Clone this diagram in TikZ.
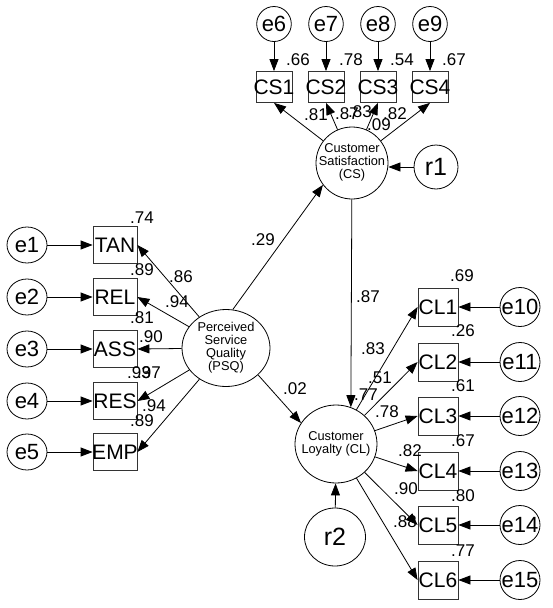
\documentclass[tikz,border=0pt]{standalone}
\usepackage{fontspec}
\setmainfont{Liberation Sans}
\usetikzlibrary{arrows.meta,shapes.geometric}
\newcommand{\boxtxt}[1]{\makebox[0pt]{#1}}
\newcommand{\latlines}[1]{\makebox[0pt]{\begin{tabular}{@{}c@{}}#1\end{tabular}}}

\begin{document}
\begin{tikzpicture}[x=1pt, y=-1pt, line width=0.8pt,
    obs/.style={rectangle, draw=black!80, inner sep=0pt, font=\fontsize{21}{21}\selectfont},
    csbox/.style={obs, minimum width=36pt, minimum height=31pt},
    lbox/.style={obs, minimum width=44pt, minimum height=37pt},
    rbox/.style={obs, minimum width=40pt, minimum height=38pt},
    err/.style={ellipse, draw, inner sep=0pt, font=\fontsize{22}{22}\selectfont},
    errtop/.style={err, minimum width=34pt, minimum height=35pt},
    errleft/.style={err, minimum width=40pt, minimum height=36pt},
    errright/.style={err, minimum width=40pt, minimum height=39pt},
    res/.style={err, font=\fontsize{25}{25}\selectfont},
    lat/.style={ellipse, draw, inner sep=0pt, font=\fontsize{12.8}{11.6}\selectfont},
    coef/.style={inner sep=0pt, font=\fontsize{17}{17}\selectfont},
    arr/.style={-{Triangle[length=12pt,width=9pt]}}
]
    \useasboundingbox (0,0) rectangle (552,608);
    \node[errtop] (e6) at (274,24) {e6};
    \node[errtop] (e7) at (326,24) {e7};
    \node[errtop] (e8) at (378,24) {e8};
    \node[errtop] (e9) at (430,24) {e9};
    \node[csbox] (cs1) at (274,87) {\boxtxt{CS1}};
    \node[csbox] (cs2) at (326,87) {\boxtxt{CS2}};
    \node[csbox] (cs3) at (378,87) {\boxtxt{CS3}};
    \node[csbox] (cs4) at (430,87) {\boxtxt{CS4}};
    \node[lat, minimum width=72pt, minimum height=72pt] (cs) at (352,163) {\raisebox{-5pt}{\latlines{Customer\\Satisfaction\\(CS)}}};
    \node[res, minimum width=44pt, minimum height=44pt] (r1) at (436,167) {r1};
    \node[errleft] (e1) at (27,245) {e1};
    \node[errleft] (e2) at (27,297) {e2};
    \node[errleft] (e3) at (27,349) {e3};
    \node[errleft] (e4) at (27,401) {e4};
    \node[errleft] (e5) at (27,452) {e5};
    \node[lbox] (tan) at (115,245) {\boxtxt{TAN}};
    \node[lbox] (rel) at (115,297) {\boxtxt{REL}};
    \node[lbox] (ass) at (115,349) {\boxtxt{ASS}};
    \node[lbox] (resp) at (115,401) {\boxtxt{RES}};
    \node[lbox] (emp) at (115,452) {\boxtxt{EMP}};
    \node[lat, minimum width=88pt, minimum height=77pt] (psq) at (226,348) {\latlines{Perceived\\Service\\Quality\\(PSQ)}};
    \node[lat, minimum width=82pt, minimum height=78pt] (cl) at (336,444) {\latlines{Customer\\Loyalty (CL)}};
    \node[res, minimum width=61pt, minimum height=58pt] (r2) at (335,537) {r2};
    \node[rbox] (cl1) at (438,307) {\boxtxt{CL1}};
    \node[rbox] (cl2) at (438,362) {\boxtxt{CL2}};
    \node[rbox] (cl3) at (438,416) {\boxtxt{CL3}};
    \node[rbox] (cl4) at (438,471) {\boxtxt{CL4}};
    \node[rbox] (cl5) at (438,525) {\boxtxt{CL5}};
    \node[rbox] (cl6) at (438,580) {\boxtxt{CL6}};
    \node[errright] (e10) at (520,307) {\boxtxt{e10}};
    \node[errright] (e11) at (520,362) {\boxtxt{e11}};
    \node[errright] (e12) at (520,416) {\boxtxt{e12}};
    \node[errright] (e13) at (520,471) {\boxtxt{e13}};
    \node[errright] (e14) at (520,525) {\boxtxt{e14}};
    \node[errright] (e15) at (520,580) {\boxtxt{e15}};
    \draw[arr] (e6) -- (cs1);
    \draw[arr] (e7) -- (cs2);
    \draw[arr] (e8) -- (cs3);
    \draw[arr] (e9) -- (cs4);
    \draw[arr] (cs) -- (cs1.south);
    \draw[arr] (cs) -- (cs2.south);
    \draw[arr] (cs) -- (cs3.south);
    \draw[arr] (cs) -- (cs4.south);
    \draw[arr] (r1) -- (r1 -| cs.east);
    \draw[arr] (e1) -- (tan);
    \draw[arr] (e2) -- (rel);
    \draw[arr] (e3) -- (ass);
    \draw[arr] (e4) -- (resp);
    \draw[arr] (e5) -- (emp);
    \draw[arr] (psq) -- (tan.east);
    \draw[arr] (psq) -- (rel.east);
    \draw[arr] (psq) -- (ass.east);
    \draw[arr] (psq) -- (resp.east);
    \draw[arr] (psq) -- (emp.east);
    \draw[arr] (psq.80) -- (cs.217);
    \draw[arr] (psq.-40) -- (cl.149);
    \draw[arr] (cs) -- (cl.68);
    \draw[arr] (r2) -- (cl);
    \draw[arr] (cl) -- (cl1.west);
    \draw[arr] (cl) -- (cl2.west);
    \draw[arr] (cl) -- (cl3.west);
    \draw[arr] (cl) -- (cl4.west);
    \draw[arr] (cl) -- (cl5.west);
    \draw[arr] (cl) -- (cl6.west);
    \draw[arr] (e10) -- (cl1);
    \draw[arr] (e11) -- (cl2);
    \draw[arr] (e12) -- (cl3);
    \draw[arr] (e13) -- (cl4);
    \draw[arr] (e14) -- (cl5);
    \draw[arr] (e15) -- (cl6);
    \node[coef] (sqcs1) at (298,60) {.66};
    \node[coef] (sqcs2) at (351,60) {.78};
    \node[coef] (sqcs3) at (402,60) {.54};
    \node[coef] (sqcs4) at (454,60) {.67};
    \node[coef] (ldcs1) at (316,115) {.81};
    \node[coef] (ldcs2) at (347,114) {.87};
    \node[coef] (ldcs3) at (360,112) {.83};
    \node[coef] (ldcs4) at (395,114) {.82};
    \node[coef] (covcs) at (379,125) {.09};
    \node[coef] (sqtan) at (142,218) {.74};
    \node[coef] (sqrel) at (142,270) {.89};
    \node[coef] (ldtan) at (181,277) {.86};
    \node[coef] (ldrel) at (177,302) {.94};
    \node[coef] (sqass) at (142,318) {.81};
    \node[coef] (ldass) at (151,337) {.90};
    \node[coef] (sqres) at (139,373) {.93};
    \node[coef] (ldres) at (149,373) {.97};
    \node[coef] (ldemp) at (154,406) {.94};
    \node[coef] (sqemp) at (142,421) {.89};
    \node[coef] (pcs) at (263,240) {.29};
    \node[coef] (pcl) at (295,389) {.02};
    \node[coef] (cscl) at (368,297) {.87};
    \node[coef] (sqcl1) at (462,276) {.69};
    \node[coef] (sqcl2) at (463,331) {.26};
    \node[coef] (sqcl3) at (463,386) {.61};
    \node[coef] (sqcl4) at (463,441) {.67};
    \node[coef] (sqcl5) at (463,496) {.80};
    \node[coef] (sqcl6) at (463,551) {.77};
    \node[coef] (ldcl1) at (373,349) {.83};
    \node[coef] (ldcl2) at (380,378) {.51};
    \node[coef] (sqclv) at (366,395) {.77};
    \node[coef] (ldcl3) at (387,412) {.78};
    \node[coef] (ldcl4) at (410,451) {.82};
    \node[coef] (ldcl5) at (406,489) {.90};
    \node[coef] (ldcl6) at (405,522) {.88};
\end{tikzpicture}
\end{document}
